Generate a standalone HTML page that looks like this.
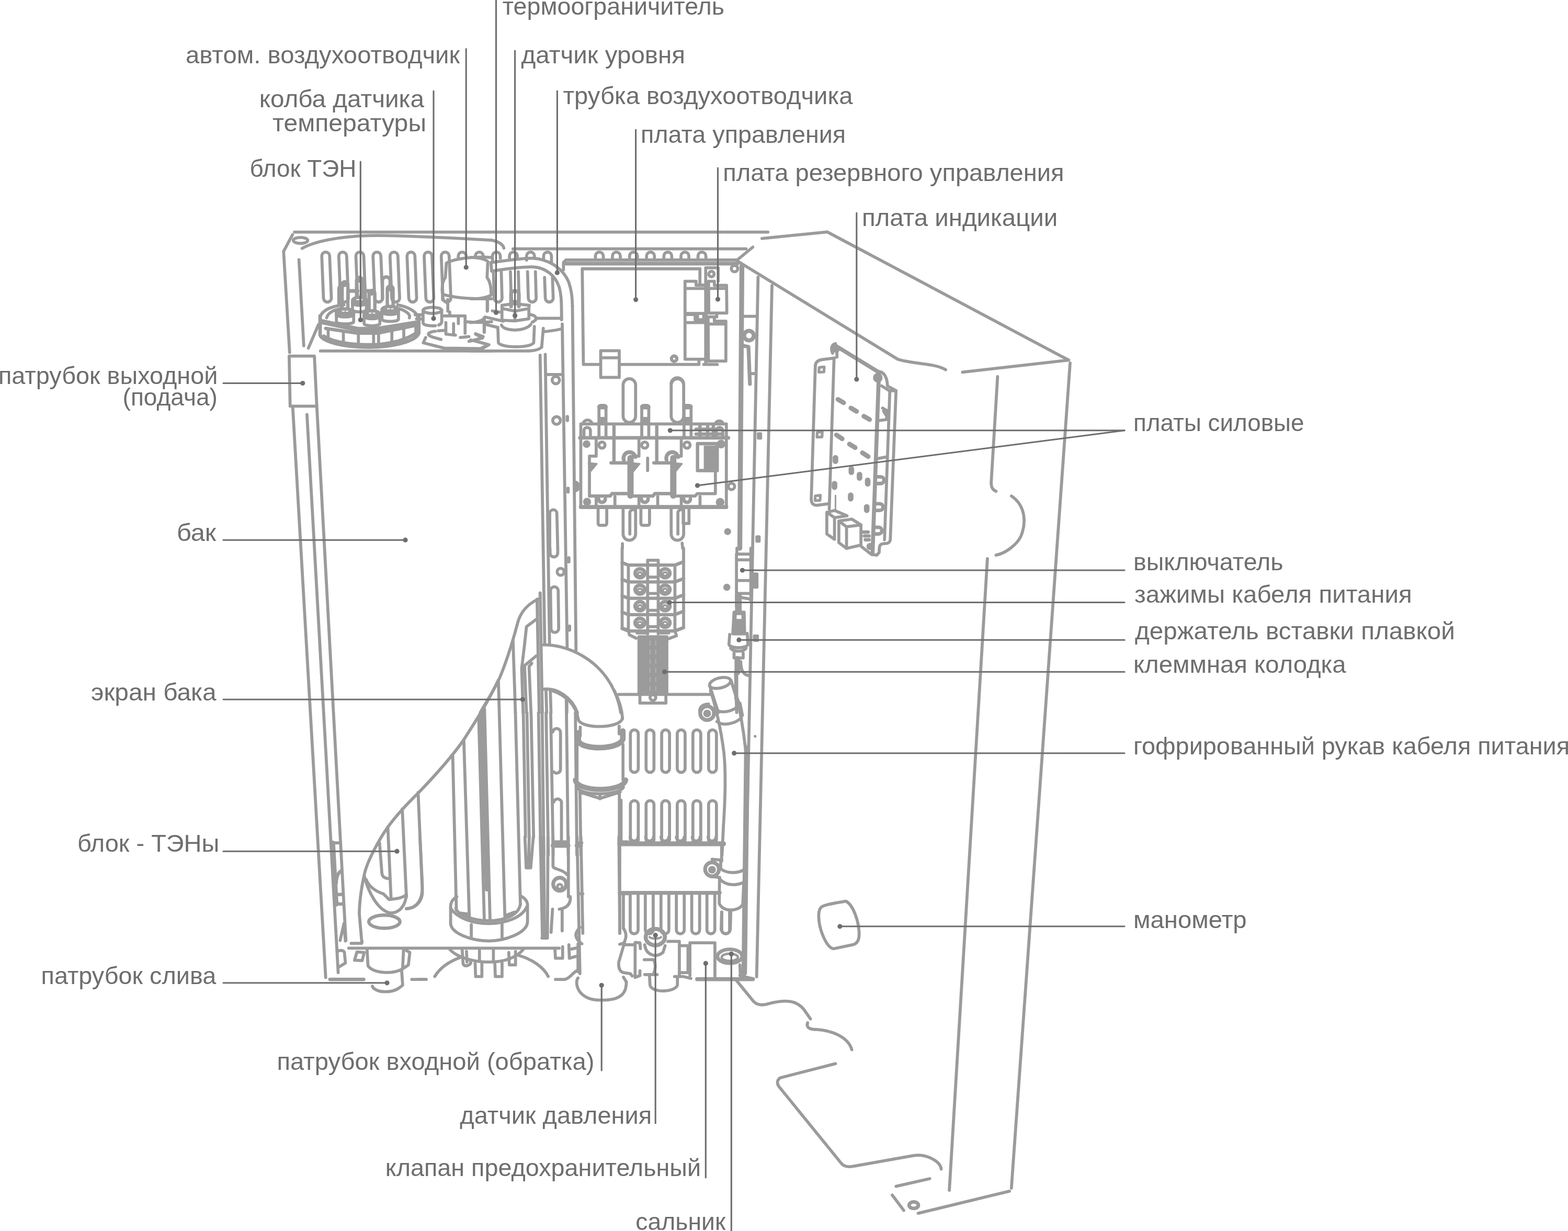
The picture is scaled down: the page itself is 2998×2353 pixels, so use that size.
<!DOCTYPE html>
<html lang="ru">
<head>
<meta charset="utf-8">
<title>Схема электрокотла</title>
<style>
html,body{margin:0;padding:0;background:#ffffff;}
body{width:2998px;height:2353px;overflow:hidden;}
svg{display:block;filter:grayscale(1);}
.lbl text{font-family:"Liberation Sans","DejaVu Sans",sans-serif;font-size:46.2px;fill:#6e6e6e;}
</style>
</head>
<body>
<svg width="2998" height="2353" viewBox="0 0 2998 2353">
<rect x="0" y="0" width="2998" height="2353" fill="#ffffff"/>
<g id="drawing" fill="none" stroke="#9b9b9b" stroke-width="5.8" stroke-linecap="round" stroke-linejoin="round">
<g id="case-left">
<path d="M552.9 680.7H601.1L605.7 776.3H554.7Z"/>
<path d="M559.7 778.6L622.7 1868.4"/>
<path d="M586.9 792.4L646.6 1859"/>
<path d="M605.7 776.3L661.3 1797.6"/>
</g>
<g id="columns">
<path d="M1032.7 678.8L1041.5 1231.8"/>
<path d="M1042.5 677.4L1050.7 1229"/>
<path d="M1075 619.4L1084.4 1237.3"/>
<path d="M1094.5 585.4L1101.3 1242.9"/>
<path d="M1449.4 530L1422.8 1859"/>
<path d="M1476 546L1446.7 1867"/>
<path d="M2046 694L1933.8 2271"/>
<path d="M1887.9 1068L1815.1 2275"/>
<path d="M1418.5 508L1414.5 1048" stroke-width="9.28"/>
</g>
<g id="screen">
<path d="M952.9 1300C930 1348 905 1385 886.8 1414C865 1445 840 1474 800.4 1515C780 1535 755 1562 741.5 1581C725 1604 700 1650 696.3 1673.5C690 1700 687 1730 687 1747L691.7 1800.4"/>
<path d="M741.5 1581L747.7 1717.6"/>
<path d="M769.1 1546.3L777 1714"/>
<path d="M799.4 1515L807.5 1703C808.4 1719.5 797.4 1736 777.1 1737"/>
<path d="M865.6 1445L872.6 1739.7"/>
<path d="M886.8 1414L897.4 1756"/>
<path d="M915.3 1371L926 1760"/>
<path d="M921 1362L931 1700" stroke-width="8.12"/>
<path d="M926.3 1355L937 1760"/>
<path d="M952.9 1300L965.4 1756"/>
<path d="M985.5 1362L995 1729"/>
</g>
<g transform="translate(540 420) scale(0.183824)" stroke-width="31.32">
<path d="M125 128H5050"/>
<path d="M205 298C330 225 600 172 900 165S1700 185 2176 213"/>
<path d="M105 155L12 330L75 1380"/>
<ellipse cx="188" cy="215" rx="75" ry="31"/>
<path d="M172 415L222 1310"/>
<path d="M375 1090L270 1335"/>
<path d="M409 377A41 41 0 0 1 491 377L509 815A41 41 0 0 1 427 815Z"/>
<path d="M586 377A41 41 0 0 1 668 377L686 815A41 41 0 0 1 604 815Z"/>
<path d="M764 377A41 41 0 0 1 846 377L864 815A41 41 0 0 1 782 815Z"/>
<path d="M942 377A41 41 0 0 1 1024 377L1042 815A41 41 0 0 1 960 815Z"/>
<path d="M1119 377A41 41 0 0 1 1201 377L1219 815A41 41 0 0 1 1137 815Z"/>
<path d="M1296 377A41 41 0 0 1 1378 377L1396 815A41 41 0 0 1 1314 815Z"/>
<path d="M1474 377A41 41 0 0 1 1556 377L1574 815A41 41 0 0 1 1492 815Z"/>
<path d="M1652 377A41 41 0 0 1 1734 377L1752 815A41 41 0 0 1 1670 815Z"/>
<path d="M395 1365H2176"/>
<path d="M1829 395V377A41 41 0 0 1 1911 377V388"/>
<path d="M392 1010C420 930 520 900 640 885M1200 885C1300 905 1390 950 1400 1000"/>
<path d="M392 1000V1200C420 1270 640 1325 900 1325S1390 1260 1418 1180V1000" stroke-width="37.12"/>
<path d="M430 1210C520 1270 700 1300 900 1300S1300 1250 1400 1170" stroke-width="34.8"/>
<path d="M460 1020C475 960 540 940 600 925M1215 925C1290 950 1335 985 1320 1020"/>
<path d="M410 1060L780 1140H980L1390 1075" stroke-width="53.36"/>
<path d="M450 1130L780 1180H990L1380 1100" stroke-width="34.8"/>
<path d="M476 1150V1245"/>
<path d="M634 1160V1275"/>
<path d="M790 1170V1290"/>
<path d="M948 1180V1275"/>
<path d="M1000 1180V1270"/>
<path d="M1138 1150V1260"/>
<path d="M1262 1120V1235"/>
<path d="M1388 1070V1185"/>
<path d="M771 829V629A30 30 0 0 1 831 629V829" stroke-width="34.8"/>
<circle cx="796" cy="624" r="30" fill="#9b9b9b" stroke="none"/>
<path d="M729 839V934C729 966 873 966 873 934V839" fill="#ffffff"/>
<ellipse cx="801" cy="839" rx="72" ry="34" fill="#9b9b9b"/>
<path d="M729 859C729 899 873 899 873 859" stroke-width="34.8"/>
<path d="M773 831H793M813 831H831" stroke="#ffffff" stroke-width="10.44"/>
<path d="M1091 924V719A30 30 0 0 1 1151 719V924" stroke-width="34.8"/>
<circle cx="1116" cy="714" r="30" fill="#9b9b9b" stroke="none"/>
<path d="M1035 934V1034C1035 1066 1207 1066 1207 1034V934" fill="#ffffff"/>
<ellipse cx="1121" cy="934" rx="86" ry="34" fill="#9b9b9b"/>
<path d="M1035 954C1035 994 1207 994 1207 954" stroke-width="34.8"/>
<path d="M1093 926H1113M1133 926H1151" stroke="#ffffff" stroke-width="10.44"/>
<path d="M621 949V674A30 30 0 0 1 681 674V949" stroke-width="34.8"/>
<circle cx="646" cy="669" r="30" fill="#9b9b9b" stroke="none"/>
<path d="M561 959V1059C561 1091 741 1091 741 1059V959" fill="#ffffff"/>
<ellipse cx="651" cy="959" rx="90" ry="34" fill="#9b9b9b"/>
<path d="M561 979C561 1019 741 1019 741 979" stroke-width="34.8"/>
<path d="M623 951H643M663 951H681" stroke="#ffffff" stroke-width="10.44"/>
<path d="M901 969V764A30 30 0 0 1 961 764V969" stroke-width="34.8"/>
<circle cx="926" cy="759" r="30" fill="#9b9b9b" stroke="none"/>
<path d="M849 979V1079C849 1111 1013 1111 1013 1079V979" fill="#ffffff"/>
<ellipse cx="931" cy="979" rx="82" ry="34" fill="#9b9b9b"/>
<path d="M849 999C849 1039 1013 1039 1013 999" stroke-width="34.8"/>
<path d="M903 971H923M943 971H961" stroke="#ffffff" stroke-width="10.44"/>
<path d="M590 880V720A40 40 0 0 1 640 680M700 740H780M850 740H900" stroke-width="39.44"/>
<path d="M1040 820V640A40 40 0 0 1 1120 630V700" stroke-width="34.8"/>
<ellipse cx="1560" cy="942" rx="97" ry="32"/>
<path d="M1463 942V1078C1480 1100 1540 1105 1590 1102M1657 942V1060C1655 1080 1640 1090 1625 1095"/>
<path d="M1380 988H1455M1395 1032H1455"/>
<path d="M2176 392C2000 380 1800 400 1705 450L1695 600C1665 640 1655 700 1665 775C1800 815 2000 825 2176 822"/>
<path d="M1720 830V950M2130 830V950"/>
<path d="M1665 790V830L1720 870"/>
<path d="M1740 960V990M1680 1000H1900V1180M1700 1070V1190L1800 1200M1780 1080V1190M1830 1000V1080M1850 1225L1940 1215M1620 1155L1690 1150M1590 1160C1500 1170 1500 1200 1560 1220L1650 1245M1490 1225L1465 1280L1680 1335L2060 1340L2140 1300L2060 1275M1940 1265L2080 1230L2010 1190"/>
<path d="M1900 1060C2000 1070 2100 1070 2176 1060M2100 1020V1170"/>
</g>
<g transform="translate(900 420) scale(0.183824)" stroke-width="31.32">
<path d="M218 213C290 228 335 258 345 295"/>
<path d="M440 303H2864"/>
<path d="M48 390V377A41 41 0 0 1 130 377V395"/>
<path d="M226 420V377A41 41 0 0 1 308 377V400"/>
<path d="M236 540L244 815A41 41 0 0 0 326 815L318 540"/>
<path d="M403 420V377A41 41 0 0 1 485 377V400"/>
<path d="M413 540L421 815A41 41 0 0 0 503 815L495 540"/>
<path d="M581 420V377A41 41 0 0 1 663 377V400"/>
<path d="M591 540L599 815A41 41 0 0 0 681 815L673 540"/>
<path d="M758 420V377A41 41 0 0 1 840 377V440"/>
<path d="M768 600L776 815A41 41 0 0 0 858 815L850 600"/>
<path d="M1297 410V377A41 41 0 0 1 1379 377V410"/>
<path d="M1474 410V377A41 41 0 0 1 1556 377V410"/>
<path d="M1652 410V377A41 41 0 0 1 1734 377V410"/>
<path d="M1829 410V377A41 41 0 0 1 1911 377V410"/>
<path d="M2009 410V377A41 41 0 0 1 2091 377V410"/>
<path d="M2187 410V377A41 41 0 0 1 2269 377V410"/>
<path d="M2364 410V377A41 41 0 0 1 2446 377V410"/>
<path d="M210 445C400 420 520 400 640 400C800 405 960 500 1020 650C1050 740 1055 800 1058 900"/>
<path d="M218 535C400 505 520 490 640 490C780 495 880 580 920 700C940 770 945 820 945 1040"/>
<path d="M210 445L218 535"/>
<path d="M0 392C80 392 150 410 178 435L170 600C200 640 215 690 212 785C150 815 60 825 0 822"/>
<path d="M175 815V945"/>
<path d="M0 1070C60 1065 110 1050 140 1030V1170"/>
<path d="M965 520V445L990 418H2774"/>
<path d="M990 456H2774" stroke-width="39.44"/>
<path d="M2384 510H1160L1172 1505H1340M1555 1505H2374V1460"/>
<path d="M1352 1362H1545V1640H1352ZM1352 1435H1545"/>
<circle cx="2115" cy="1445" r="28"/>
<path d="M325 890L450 872L610 890L600 925L460 950L335 925ZM325 890V1045L460 1052L605 1030V890M460 950V1050"/>
<path d="M420 900V770A40 30 0 0 1 500 770V900" stroke-width="39.44"/>
<path d="M320 1095C350 1165 560 1165 625 1090M620 985C690 1000 700 1040 640 1065"/>
<path d="M282 1120L288 1280C320 1335 620 1335 655 1280L662 1110"/>
<path d="M225 948L300 960M150 1012L340 1055M160 1090L282 1120M140 1020V1170"/>
<path d="M690 1025H945M755 1130L738 1325M755 1165C800 1160 900 1150 950 1132"/>
<path d="M0 1365H600C680 1360 720 1345 738 1325"/>
<path d="M50 1185L130 1215M0 1250L190 1300L110 1345"/>
<path d="M790 1610H945"/>
<circle cx="885" cy="1668" r="38"/>
</g>
<g transform="translate(1250 420) scale(0.183824)" stroke-width="31.32">
<path d="M1030 285L860 425"/>
<path d="M480 510V680M540 500V1500M520 1505H660"/>
<path d="M325 640H440V680H545V975H325ZM335 715H540"/>
<path d="M325 985H430V1040H520V985H545V1450H325ZM335 1070H540M455 990V1035"/>
<path d="M570 640H630V682H757L760 970H572ZM580 715H750"/>
<path d="M565 1010H630V1055H750V1470H568ZM575 1085H750M655 985V1010"/>
<circle cx="600" cy="565" r="28"/>
<path d="M545 500H670V640"/>
<circle cx="840" cy="508" r="33"/>
<circle cx="213" cy="1445" r="28"/>
<path d="M935 1005H1070M1000 1600H1060"/>
<circle cx="990" cy="1205" r="50" stroke-width="41.76"/>
<path d="M940 1312L985 1322L1000 1708" stroke-width="39.44"/>
<path d="M1125 195L1805 127L4316 1460L3211 1585"/>
<path d="M870 430L2536 1450C2676 1500 2926 1490 3036 1560"/>
<path d="M180 1708A65 65 0 0 1 310 1708"/>
</g>
<g transform="translate(900 734) scale(0.183824)" stroke-width="31.32">
<circle cx="893" cy="380" r="40"/>
<path d="M1005 340V378M1012 1085V1122" stroke-width="34.8"/>
<path d="M1080 1020A45 45 0 0 1 1080 1110Z" fill="#9b9b9b"/>
<path d="M822 1708V1345A37 37 0 0 1 896 1345L905 1708"/>
<path d="M1145 415H2659V1285H1145Z"/>
<path d="M1135 560H2680" stroke-width="37.12"/>
<path d="M1145 1278H2659" stroke-width="39.44"/>
<path d="M1585 10A65 65 0 0 1 1715 10V335A65 65 0 0 1 1585 335Z"/>
<path d="M1585 1290V1560A65 65 0 0 0 1715 1560V1290M1655 1560V1345A35 35 0 0 1 1705 1310"/>
<path d="M2085 10A65 65 0 0 1 2215 10V335A65 65 0 0 1 2085 335Z"/>
<path d="M2085 1290V1560A65 65 0 0 0 2215 1560V1290M2155 1560V1345A35 35 0 0 1 2205 1310"/>
<path d="M1334 560V240A18 18 0 0 1 1352 222H1389A18 18 0 0 1 1407 240V560"/>
<path d="M1342 238H1399" stroke-width="51.04"/>
<path d="M1338 375H1403" stroke-width="64.96" stroke-linecap="butt"/>
<path d="M1325 1290V1450A20 20 0 0 0 1345 1470H1395A20 20 0 0 0 1415 1450V1290"/>
<circle cx="1365" cy="635" r="32"/>
<path d="M1330 1195A35 35 0 0 0 1400 1195" stroke-width="37.12"/>
<path d="M1305 1170V1285M1500 1170V1285"/>
<path d="M1225 822L1312 830L1250 905Z" fill="#9b9b9b" stroke-width="16.24"/>
<path d="M1305 575V750H1245"/>
<path d="M1779 560V240A18 18 0 0 1 1797 222H1834A18 18 0 0 1 1852 240V560"/>
<path d="M1787 238H1844" stroke-width="51.04"/>
<path d="M1783 375H1848" stroke-width="64.96" stroke-linecap="butt"/>
<path d="M1770 1290V1450A20 20 0 0 0 1790 1470H1840A20 20 0 0 0 1860 1450V1290"/>
<circle cx="1810" cy="635" r="32"/>
<path d="M1775 1195A35 35 0 0 0 1845 1195" stroke-width="37.12"/>
<path d="M1750 1170V1285M1945 1170V1285"/>
<path d="M1670 822L1757 830L1695 905Z" fill="#9b9b9b" stroke-width="16.24"/>
<path d="M1750 575V750H1690"/>
<path d="M2219 560V240A18 18 0 0 1 2237 222H2274A18 18 0 0 1 2292 240V560"/>
<path d="M2227 238H2284" stroke-width="51.04"/>
<path d="M2223 375H2288" stroke-width="64.96" stroke-linecap="butt"/>
<path d="M2210 1290V1450H2270V1290"/>
<circle cx="2250" cy="635" r="32"/>
<path d="M2215 1195A35 35 0 0 0 2285 1195" stroke-width="37.12"/>
<path d="M2190 1170V1285M2385 1170V1285"/>
<path d="M2110 822L2197 830L2135 905Z" fill="#9b9b9b" stroke-width="16.24"/>
<path d="M2190 575V750H2130"/>
<path d="M1490 440V800M1460 820H1640" stroke-width="34.8"/>
<path d="M1592 790A62 62 0 1 1 1712 760" stroke-width="39.44"/>
<path d="M1662 770V1160" stroke-width="64.96"/>
<path d="M1240 1165H1450L1470 1140H1640" stroke-width="34.8"/>
<path d="M1935 440V800M1905 820H2085" stroke-width="34.8"/>
<path d="M2037 790A62 62 0 1 1 2157 760" stroke-width="39.44"/>
<path d="M2107 770V1160" stroke-width="64.96"/>
<path d="M1685 1165H1895L1915 1140H2085" stroke-width="34.8"/>
<path d="M1235 750V1165"/>
<path d="M2130 1165H2335L2355 1140H2545V900"/>
<path d="M1840 770V900"/>
<circle cx="1205" cy="625" r="40" fill="#9b9b9b" stroke="none"/>
<circle cx="1210" cy="1225" r="42" fill="#9b9b9b" stroke="none"/>
<path d="M1170 415A45 40 0 0 1 1260 415M1178 545V480A34 34 0 0 1 1245 480V545"/>
<path d="M2359 620H2564V900H2359Z" stroke-width="34.8"/>
<path d="M2424 640H2554V890H2424Z" fill="#9b9b9b" stroke="none"/>
<path d="M2344 470H2604M2344 520H2604M2384 430V560M2464 430V560M2524 430V560" stroke-width="34.8"/>
<circle cx="2604" cy="625" r="45" fill="#9b9b9b" stroke="none"/>
<circle cx="2594" cy="1230" r="45" fill="#9b9b9b" stroke="none"/>
<path d="M2544 415A42 40 0 0 1 2626 415M2554 545V485A34 34 0 0 1 2622 485V545"/>
<circle cx="2712" cy="1065" r="33"/>
<circle cx="2672" cy="1535" r="36" fill="#9b9b9b" stroke="none"/>
<path d="M2199 1655L2204 1708M1578 1660V1708"/>
</g>
<g transform="translate(900 1048) scale(0.183824)" stroke-width="31.32">
<path d="M825 0V50A40 40 0 0 0 905 50V0"/>
<circle cx="935" cy="245" r="36"/>
<path d="M830 440A40 40 0 0 1 910 440L915 835A40 40 0 0 1 835 835Z"/>
<path d="M1020 100V140M1027 810V850" stroke-width="34.8"/>
<path d="M722 465V520C600 570 520 660 490 770C440 960 380 1160 300 1350C240 1480 160 1600 100 1708"/>
<path d="M722 468L745 1708M690 530L712 1708"/>
<path d="M680 740L580 815L560 1000L530 1250L545 1708M680 1120L560 1220L580 1708M635 1197L607 1229L627 1708"/>
<path d="M440 960L465 1708"/>
<path d="M760 1005C1000 1000 1350 1150 1500 1500C1530 1570 1550 1640 1560 1708"/>
<path d="M760 1465C900 1450 1050 1550 1110 1708"/>
<path d="M783 1480L790 1708M828 1480L835 1708M1000 1590V1708"/>
<path d="M1540 1520H1750M2040 1520H2494"/>
<path d="M1575 0V150L1640 175V850L1575 830V150"/>
<path d="M1640 175H2124L2214 140M1575 150L1640 175" stroke-width="34.8"/>
<path d="M1640 350H2124L2214 315M1575 325L1640 350" stroke-width="34.8"/>
<path d="M1640 520H2124L2214 485M1575 495L1640 520" stroke-width="34.8"/>
<path d="M1640 690H2124L2214 655M1575 665L1640 690" stroke-width="34.8"/>
<path d="M1640 860H2124L2214 825M1575 835L1640 860" stroke-width="34.8"/>
<path d="M1840 890V125H1950V890M2124 175V860L2214 825V0"/>
<path d="M1850 300H1940"/>
<path d="M1850 470H1940"/>
<path d="M1850 645H1940"/>
<path d="M1850 815H1940"/>
<ellipse cx="1760" cy="260" rx="50" ry="46" stroke-width="37.12"/>
<ellipse cx="1760" cy="268" rx="24" ry="18" stroke-width="20.88"/>
<ellipse cx="1760" cy="430" rx="50" ry="46" stroke-width="37.12"/>
<ellipse cx="1760" cy="438" rx="24" ry="18" stroke-width="20.88"/>
<ellipse cx="1760" cy="602" rx="50" ry="46" stroke-width="37.12"/>
<ellipse cx="1760" cy="610" rx="24" ry="18" stroke-width="20.88"/>
<ellipse cx="1760" cy="775" rx="50" ry="46" stroke-width="37.12"/>
<ellipse cx="1760" cy="783" rx="24" ry="18" stroke-width="20.88"/>
<ellipse cx="2022" cy="260" rx="50" ry="46" stroke-width="37.12"/>
<ellipse cx="2022" cy="268" rx="24" ry="18" stroke-width="20.88"/>
<ellipse cx="2022" cy="430" rx="50" ry="46" stroke-width="37.12"/>
<ellipse cx="2022" cy="438" rx="24" ry="18" stroke-width="20.88"/>
<ellipse cx="2022" cy="602" rx="50" ry="46" stroke-width="37.12"/>
<ellipse cx="2022" cy="610" rx="24" ry="18" stroke-width="20.88"/>
<ellipse cx="2022" cy="775" rx="50" ry="46" stroke-width="37.12"/>
<ellipse cx="2022" cy="783" rx="24" ry="18" stroke-width="20.88"/>
<path d="M1640 850L1650 900L1720 935M2124 860L2140 910L2060 940M1730 880H1830M1960 880H2060"/>
<path d="M1750 920H2040V1520H1750Z" fill="#9b9b9b"/>
<path d="M1865 960V1480M1925 960V1480" stroke="#b4b4b4" stroke-width="9.28" stroke-dasharray="50 45" stroke-linecap="butt"/>
<path d="M1760 1520V1610H2030V1520"/>
<circle cx="1895" cy="1552" r="30"/>
</g>
<g transform="translate(1250 1048) scale(0.183824)" stroke-width="31.32">
<path d="M865 0V60H1020M860 60V600M1010 0V540M870 120H1010M870 335H1010M870 470H1010"/>
<path d="M1030 265H1075V405H1030Z" fill="#9b9b9b" stroke-width="27.84"/>
<path d="M880 490V660" stroke-width="69.6"/>
<path d="M900 510C940 520 1000 520 1010 540"/>
<path d="M835 665H940L945 890H822Z" fill="#9b9b9b"/>
<path d="M862 695H912V735H862Z" fill="#ffffff" stroke="none"/>
<path d="M790 895L782 1000C800 1045 960 1045 980 1000L972 885M800 1040C830 1080 930 1080 960 1040M835 1090V1140H930V1090"/>
<path d="M870 1150V1290" stroke-width="60.32"/>
<path d="M905 1180C905 1290 950 1320 990 1322M850 1290L862 1708"/>
<path d="M858 1290V1560" stroke-width="41.76"/>
<circle cx="760" cy="405" r="37" fill="#9b9b9b" stroke="none"/>
<path d="M1045 910H1080V960H1045Z" fill="#9b9b9b" stroke-width="27.84"/>
<ellipse cx="690" cy="1400" rx="112" ry="52" transform="rotate(-14 690 1400)"/>
<path d="M580 1425L672 1708M802 1372L900 1650"/>
<path d="M570 1620C500 1620 470 1660 480 1708"/>
</g>
<g transform="translate(1500 620) scale(0.183824)" stroke-width="31.32">
<path d="M520 350L390 366C345 372 320 395 320 440L278 1820C278 1870 310 1885 345 1880L460 1865"/>
<path d="M515 350L465 1920"/>
<path d="M530 222L985 500" stroke-width="41.76"/>
<circle cx="535" cy="255" r="42" fill="#9b9b9b" stroke="none"/>
<circle cx="970" cy="555" r="50" fill="#9b9b9b" stroke="none"/>
<path d="M500 300C480 250 490 210 530 200M545 290V340"/>
<path d="M980 560L915 2390" stroke-width="41.76"/>
<path d="M985 490C1040 500 1070 560 1070 640L1160 690L1100 2240C1095 2275 1070 2280 1040 2278L1010 2285C985 2295 985 2320 985 2370L960 2400L900 2390L800 2310"/>
<path d="M1095 700L1040 2240M1010 640L1090 690H1160"/>
<path d="M1020 870L1072 900L1060 990L985 1000M1030 900L1065 960M975 1395L1060 1378"/>
<path d="M970 1585H1000A35 35 0 0 1 1000 1655H965" stroke-width="37.12"/>
<path d="M960 1865H990A35 35 0 0 1 990 1935H955" stroke-width="37.12"/>
<path d="M948 2110H978A35 35 0 0 1 978 2180H943" stroke-width="37.12"/>
<path d="M555 780L615 815" stroke-width="48.72"/>
<path d="M690 870L750 905" stroke-width="48.72"/>
<path d="M825 955L885 990" stroke-width="48.72"/>
<path d="M540 1150L600 1190" stroke-width="48.72"/>
<path d="M675 1245L735 1282" stroke-width="48.72"/>
<path d="M810 1335L870 1375" stroke-width="48.72"/>
<path d="M530 1387V1423" stroke-width="58"/>
<path d="M695 1502V1538" stroke-width="58"/>
<path d="M780 1562V1598" stroke-width="58"/>
<path d="M865 1622V1658" stroke-width="58"/>
<path d="M520 1657V1693" stroke-width="58"/>
<path d="M688 1777V1813" stroke-width="58"/>
<path d="M855 1897V1933" stroke-width="58"/>
<path d="M360 448L413 442L410 495L357 498Z" stroke-width="27.84"/>
<path d="M340 1123L393 1117L390 1170L337 1173Z" stroke-width="27.84"/>
<path d="M320 1783L373 1777L370 1830L317 1833Z" stroke-width="27.84"/>
<path d="M440 1955V2180L520 2235V2010ZM440 1955L520 1935L650 1990M520 2010L650 1990"/>
<path d="M565 2045V2270L645 2330V2105ZM565 2045L700 2025L795 2085L645 2105M795 2085V2295L645 2330"/>
<path d="M530 1780V1930" stroke-width="16.24"/>
<path d="M820 2160H870M830 2200H880M840 2240H880" stroke-width="34.8"/>
<circle cx="890" cy="2310" r="38" fill="#9b9b9b" stroke="none"/>
<path d="M2216 543L2150 1640C2148 1690 2160 1720 2200 1735"/>
<path d="M2360 1785C2500 1880 2520 2050 2460 2200C2420 2290 2300 2380 2200 2400"/>
</g>
<g transform="translate(1000 1320) scale(0.183824)" stroke-width="31.32">
<path d="M3 230L26 1523M41 230L64 1523M84 230L110 1523"/>
<path d="M161 230L184 1708M199 230L216 1708M240 230L263 1708M288 230L314 1708"/>
<path d="M450 80L470 1708M545 230L560 1708"/>
<path d="M300 0C450 50 550 150 575 300M950 0C1000 100 1030 200 1035 290"/>
<path d="M575 300C600 400 1000 400 1035 290"/>
<path d="M595 380V470M1000 370V450"/>
<path d="M575 440V520C600 620 1000 620 1038 505V420" stroke-width="58"/>
<path d="M562 560V930M1040 560V930"/>
<path d="M545 930C565 1060 1040 1060 1068 930" stroke-width="53.36"/>
<path d="M565 1010C610 1095 1000 1095 1045 1005"/>
<path d="M590 1055L800 1122L1010 1055M800 1075V1125M592 1060L602 1708M1002 1060V1708"/>
<path d="M310 430A40 40 0 0 1 390 440V820A40 40 0 0 1 320 845"/>
<path d="M320 1160A40 40 0 0 1 400 1175V1560A40 40 0 0 1 330 1585"/>
<path d="M1117 450A41 41 0 0 1 1199 450V810A41 41 0 0 1 1117 810Z"/>
<path d="M1117 1185A41 41 0 0 1 1199 1185V1550A41 41 0 0 1 1117 1550Z"/>
<path d="M1280 450A41 41 0 0 1 1362 450V810A41 41 0 0 1 1280 810Z"/>
<path d="M1280 1185A41 41 0 0 1 1362 1185V1550A41 41 0 0 1 1280 1550Z"/>
<path d="M1442 450A41 41 0 0 1 1524 450V810A41 41 0 0 1 1442 810Z"/>
<path d="M1442 1185A41 41 0 0 1 1524 1185V1550A41 41 0 0 1 1442 1550Z"/>
<path d="M1604 450A41 41 0 0 1 1686 450V810A41 41 0 0 1 1604 810Z"/>
<path d="M1604 1185A41 41 0 0 1 1686 1185V1550A41 41 0 0 1 1604 1550Z"/>
<path d="M1767 450A41 41 0 0 1 1849 450V810A41 41 0 0 1 1767 810Z"/>
<path d="M1767 1185A41 41 0 0 1 1849 1185V1550A41 41 0 0 1 1767 1550Z"/>
<path d="M1930 450A41 41 0 0 1 2012 450V810A41 41 0 0 1 1930 810Z"/>
<path d="M1930 1185A41 41 0 0 1 2012 1185V1550A41 41 0 0 1 1930 1550Z"/>
<path d="M1020 1140V1600"/>
<path d="M310 1612H470M560 1612H600" stroke-width="46.4"/>
<path d="M1950 0C2000 150 2060 400 2090 650C2110 850 2105 1100 2085 1400L2070 1708"/>
<circle cx="1915" cy="235" r="72" stroke-width="39.44"/>
<circle cx="1915" cy="238" r="40" fill="#9b9b9b" stroke="none"/>
<path d="M2007 197C2057 242 2182 222 2247 152M2017 322C2082 372 2207 347 2272 282M2257 132L2282 257"/>
</g>
<path d="M1397.4 1300L1411.8 1345.6C1418 1375 1425 1420 1428 1459.6"/>
<path d="M1428 1430L1423 1860" stroke-width="10.44"/>
<g transform="translate(1150 1600) scale(0.183824)" stroke-width="31.32">
<path d="M299 0A41 41 0 0 0 381 0"/>
<path d="M459 0A41 41 0 0 0 541 0"/>
<path d="M619 0A41 41 0 0 0 701 0"/>
<path d="M779 0A41 41 0 0 0 861 0"/>
<path d="M944 0A41 41 0 0 0 1026 0"/>
<path d="M1109 0A41 41 0 0 0 1191 0"/>
<path d="M190 70H1270" stroke-width="51.04"/>
<path d="M190 0V1000M1250 95V250"/>
<path d="M190 580H1230" stroke-width="39.44"/>
<path d="M228 590V950"/>
<path d="M299 590V965A41 41 0 0 0 381 965V590"/>
<path d="M456 590V965A41 41 0 0 0 538 965V590"/>
<path d="M619 590V965A41 41 0 0 0 701 965V590"/>
<path d="M779 590V965A41 41 0 0 0 861 965V590"/>
<path d="M939 590V965A41 41 0 0 0 1021 965V590"/>
<path d="M1097 590V965A41 41 0 0 0 1179 965V590"/>
<path d="M1251 780V965A41 41 0 0 0 1333 965V780"/>
<ellipse cx="560" cy="1040" rx="100" ry="85" stroke-width="41.76"/>
<path d="M500 1040C520 1060 600 1060 620 1040" stroke-width="23.2"/>
<path d="M450 1120C460 1220 560 1265 640 1200L662 1130M445 1275H540M450 1430H580M500 1450L505 1540C520 1620 760 1620 790 1540V1450M760 1450H850L930 1470"/>
<path d="M545 1280C570 1330 560 1380 540 1430"/>
<path d="M190 1115L240 1100M240 1120H350M235 1100C262 1040 262 1000 230 950M230 1130L180 1300C175 1360 190 1400 230 1410L300 1420L320 1445M350 1100V1440M350 1095L400 1100L405 1160M400 1390V1440L350 1460"/>
<path d="M920 1440V1100H1180V1450M810 1085V1430M690 1085H810M820 1130H900M820 1410H910M900 1130V1410"/>
<ellipse cx="1335" cy="1240" rx="128" ry="72" stroke-width="37.12"/>
<ellipse cx="1335" cy="1250" rx="85" ry="38" stroke-width="25.52"/>
<path d="M1440 1330L1445 1440L1475 1452"/>
<path d="M995 1478H1575" stroke-width="41.76"/>
<path d="M1240 260V330C1300 380 1420 380 1480 340M1225 430C1300 520 1420 500 1480 470M1228 440L1225 690C1260 780 1420 780 1470 700L1480 480M1250 780L1245 960C1260 1020 1330 1020 1340 960L1345 780"/>
<circle cx="1150" cy="335" r="72" stroke-width="39.44"/>
<circle cx="1150" cy="340" r="40" fill="#9b9b9b" stroke="none"/>
<path d="M1150 230L1250 240M1130 410L1230 420"/>
<path d="M1440 1440L1580 1475"/>
</g>
<g transform="translate(800 1600) scale(0.183824)" stroke-width="31.32">
<path d="M400 620C360 640 335 680 335 720V900C340 1000 550 1080 730 1080C900 1080 1130 1000 1135 880V700C1130 660 1100 630 1060 610"/>
<path d="M335 740C400 840 560 900 730 900C900 900 1080 840 1130 720"/>
<path d="M390 740C400 800 560 870 730 870C880 870 1040 820 1060 700"/>
<path d="M550 910V1045M870 900V1045"/>
<path d="M420 790L520 800M920 810L1000 780"/>
<path d="M16 0L41 500C46 650 -14 740 -124 745"/>
<path d="M1108 0L1121 320H1168L1195 0M1152 0L1146 300"/>
<path d="M1269 0L1290 1050M1301 0L1313 1050M1347 0L1342 1050M1285 1050H1340M1395 750L1380 990"/>
<path d="M1400 0V300C1400 340 1500 330 1545 390M1400 50H1550M1560 0V620L1580 620C1585 700 1540 740 1465 750M1495 760V975" />
<circle cx="1470" cy="490" r="68" stroke-width="39.44"/>
<circle cx="1470" cy="515" r="25" stroke-width="25.52"/>
<path d="M1650 0L1680 1420M1690 0L1710 1000M1650 60H1700M1680 590H1710M1680 940C1620 1000 1620 1050 1700 1110M1660 1110V1400"/>
<path d="M1660 1465C1630 1500 1638 1632 1788 1682C1850 1700 1960 1700 2038 1682C2110 1660 2163 1620 2163 1507L2132 1457"/>
<path d="M1425 1480H1520C1580 1470 1600 1410 1650 1390"/>
<path d="M-725 1155H1465"/>
<path d="M1420 1160L1425 1260H1500V1140M1565 1120L1570 1260L1660 1235M1590 1165L1660 1150"/>
<path d="M320 1160C400 1260 600 1300 730 1300C860 1300 1000 1270 1090 1170"/>
<path d="M455 1170L465 1320C480 1350 530 1340 545 1310L540 1280M500 1190L505 1300M590 1310L595 1450H660V1310M795 1310L800 1450H870V1310M940 1200L945 1330H1010V1190M635 1160V1290M780 1160V1290"/>
<path d="M170 1450C230 1350 330 1290 440 1250M1040 1230C1180 1270 1300 1350 1350 1450"/>
<path d="M0 1480H80"/>
<path d="M2085 0L2095 1000M2100 50H2176M2110 590H2176"/>
</g>
<g transform="translate(540 1600) scale(0.183824)" stroke-width="31.32">
<path d="M1010 60L1035 380C1040 420 1080 435 1110 430"/>
<path d="M850 400C900 600 1000 760 1120 790C1230 790 1280 700 1290 600"/>
<path d="M870 440C900 520 980 570 1050 590L1110 650C1180 640 1240 640 1290 600"/>
<ellipse cx="1060" cy="880" rx="162" ry="68" stroke-width="34.8"/>
<path d="M715 1105H825L828 1085"/>
<path d="M880 1165L890 1340C950 1420 1150 1430 1250 1370L1260 1170M1240 1390L1250 1530M935 1550C960 1620 1150 1640 1250 1540"/>
<path d="M775 1195L850 1200L830 1285L750 1280ZM1290 1180L1325 1200L1310 1330L1250 1370"/>
<path d="M495 1480H845" stroke-width="37.12"/>
<path d="M1345 1480H1495"/>
<path d="M525 60L560 700" stroke-width="46.4"/>
<path d="M525 60H600M600 1075L640 900M655 1080L640 900"/>
<path d="M560 480C560 400 590 360 615 350M560 590C580 600 600 600 615 595M560 680C580 700 600 700 625 695" stroke-width="34.8"/>
<path d="M575 1190C600 1170 640 1180 645 1200L655 1310L590 1350"/>
</g>
<g transform="translate(1250 1580) scale(0.367647)" stroke-width="15.66">
<path d="M870 420C880 405 960 395 1000 388C1040 410 1068 500 1068 560C1068 600 1050 612 1030 615L935 635C900 630 860 540 858 470C857 440 862 428 870 420Z"/>
<path d="M430 800L520 910C540 930 570 930 600 920C680 900 740 900 780 950L815 1000"/>
<path d="M800 1020C790 1050 820 1055 850 1055C920 1060 1010 1090 1030 1160"/>
</g>
<g transform="translate(1250 1900) scale(0.367647)" stroke-width="15.66">
<path d="M945 362L660 435C640 445 640 465 650 480L975 880C990 900 1020 900 1040 895L1350 840C1420 830 1490 870 1495 910"/>
<path d="M1260 1000L1435 960M1240 1045L1300 1125M1375 1140L1850 1025"/>
<ellipse cx="1352" cy="1098" rx="24" ry="17" stroke-width="18.56"/>
</g>
<circle cx="1443.8" cy="1407.4" r="2.6" fill="#9b9b9b" stroke="none"/>
<rect x="1447.2" y="826.3" width="10" height="14" rx="2.5" fill="#9b9b9b" stroke="none"/>
<rect x="1444.3" y="1023.2" width="10" height="14" rx="2.5" fill="#9b9b9b" stroke="none"/>
</g>
<g id="leaders" fill="none" stroke="#6e6e6e" stroke-width="3.1" stroke-linecap="round">
<path d="M689.3 309V611.4"/>
<path d="M829 174V608.8"/>
<path d="M891.2 93.5V511"/>
<path d="M948.5 0V597.4"/>
<path d="M984.6 97V603.3"/>
<path d="M1065.4 174V521.3"/>
<path d="M1215.6 248V572.8"/>
<path d="M1372.5 321V572"/>
<path d="M1637.8 407V725"/>
<path d="M427 732.5H578.7"/>
<path d="M427 1032.2H775"/>
<path d="M427 1337H999.3"/>
<path d="M427 1627.2H759"/>
<path d="M427 1878.8H740"/>
<path d="M2150 822.8H1281.3"/>
<path d="M2150 822.8L1333.5 928"/>
<path d="M2150 1090H1419.5"/>
<path d="M2150 1151.5H1280"/>
<path d="M2150 1223.2H1412.9"/>
<path d="M2150 1284.2H1270.6"/>
<path d="M2150 1439.7H1403.7"/>
<path d="M2150 1770.8H1605.9"/>
<path d="M1150.2 1883.3V2046"/>
<path d="M1253.2 1787.7V2147"/>
<path d="M1349.3 1841.4V2251"/>
<path d="M1398.3 1823.4V2353"/>
</g>
<g id="dots" fill="#6e6e6e" stroke="none">
<circle cx="689.3" cy="611.4" r="4.6"/>
<circle cx="829" cy="608.8" r="4.6"/>
<circle cx="891.2" cy="511" r="4.6"/>
<circle cx="948.5" cy="597.4" r="4.6"/>
<circle cx="984.6" cy="603.3" r="4.6"/>
<circle cx="1065.4" cy="521.3" r="4.6"/>
<circle cx="1215.6" cy="572.8" r="4.6"/>
<circle cx="1372.5" cy="572" r="4.6"/>
<circle cx="1637.8" cy="725" r="4.6"/>
<circle cx="578.7" cy="732.5" r="4.6"/>
<circle cx="775" cy="1032.2" r="4.6"/>
<circle cx="999.3" cy="1337" r="4.6"/>
<circle cx="759" cy="1627.2" r="4.6"/>
<circle cx="740" cy="1878.8" r="4.6"/>
<circle cx="1281.3" cy="822.8" r="4.6"/>
<circle cx="1333.5" cy="928" r="4.6"/>
<circle cx="1419.5" cy="1090" r="4.6"/>
<circle cx="1280" cy="1151.5" r="4.6"/>
<circle cx="1412.9" cy="1223.2" r="4.6"/>
<circle cx="1270.6" cy="1284.2" r="4.6"/>
<circle cx="1403.7" cy="1439.7" r="4.6"/>
<circle cx="1605.9" cy="1770.8" r="4.6"/>
<circle cx="1150.2" cy="1883.3" r="4.6"/>
<circle cx="1253.2" cy="1787.7" r="4.6"/>
<circle cx="1349.3" cy="1841.4" r="4.6"/>
<circle cx="1398.3" cy="1823.4" r="4.6"/>
</g>
<g class="lbl">
<text x="960.7" y="27.6" textLength="424.4" lengthAdjust="spacingAndGlyphs">термоограничитель</text>
<text x="996.5" y="121.0" textLength="313.6" lengthAdjust="spacingAndGlyphs">датчик уровня</text>
<text x="1076.5" y="198.5" textLength="553.9" lengthAdjust="spacingAndGlyphs">трубка воздухоотводчика</text>
<text x="1225.0" y="273.0" textLength="392.1" lengthAdjust="spacingAndGlyphs">плата управления</text>
<text x="1382.2" y="346.3" textLength="652.4" lengthAdjust="spacingAndGlyphs">плата резервного управления</text>
<text x="1647.9" y="431.8" textLength="374.4" lengthAdjust="spacingAndGlyphs">плата индикации</text>
<text x="355.0" y="121.0" textLength="524.2" lengthAdjust="spacingAndGlyphs">автом. воздухоотводчик</text>
<text x="495.7" y="205.1" textLength="315.3" lengthAdjust="spacingAndGlyphs">колба датчика</text>
<text x="520.9" y="250.7" textLength="294.1" lengthAdjust="spacingAndGlyphs">температуры</text>
<text x="477.5" y="338.4" textLength="203.8" lengthAdjust="spacingAndGlyphs">блок ТЭН</text>
<text x="-3.0" y="733.6" textLength="419.4" lengthAdjust="spacingAndGlyphs">патрубок выходной</text>
<text x="234.6" y="775.0" textLength="181.3" lengthAdjust="spacingAndGlyphs">(подача)</text>
<text x="337.9" y="1034.0" textLength="75.3" lengthAdjust="spacingAndGlyphs">бак</text>
<text x="174.0" y="1339.4" textLength="239.7" lengthAdjust="spacingAndGlyphs">экран бака</text>
<text x="148.0" y="1628.0" textLength="271.3" lengthAdjust="spacingAndGlyphs">блок - ТЭНы</text>
<text x="78.6" y="1881.0" textLength="334.7" lengthAdjust="spacingAndGlyphs">патрубок слива</text>
<text x="2167.0" y="824.0" textLength="326.4" lengthAdjust="spacingAndGlyphs">платы силовые</text>
<text x="2167.0" y="1090.0" textLength="286.6" lengthAdjust="spacingAndGlyphs">выключатель</text>
<text x="2169.0" y="1152.0" textLength="530.6" lengthAdjust="spacingAndGlyphs">зажимы кабеля питания</text>
<text x="2170.0" y="1222.0" textLength="611.9" lengthAdjust="spacingAndGlyphs">держатель вставки плавкой</text>
<text x="2166.9" y="1285.5" textLength="406.6" lengthAdjust="spacingAndGlyphs">клеммная колодка</text>
<text x="2167.0" y="1441.5" textLength="834.1" lengthAdjust="spacingAndGlyphs">гофрированный рукав кабеля питания</text>
<text x="2166.9" y="1773.7" textLength="216.8" lengthAdjust="spacingAndGlyphs">манометр</text>
<text x="529.4" y="2044.6" textLength="607.0" lengthAdjust="spacingAndGlyphs">патрубок входной (обратка)</text>
<text x="879.3" y="2147.5" textLength="366.8" lengthAdjust="spacingAndGlyphs">датчик давления</text>
<text x="736.7" y="2247.7" textLength="603.4" lengthAdjust="spacingAndGlyphs">клапан предохранительный</text>
<text x="1215.3" y="2351.3" textLength="172.0" lengthAdjust="spacingAndGlyphs">сальник</text>
</g>
</svg>
</body>
</html>
